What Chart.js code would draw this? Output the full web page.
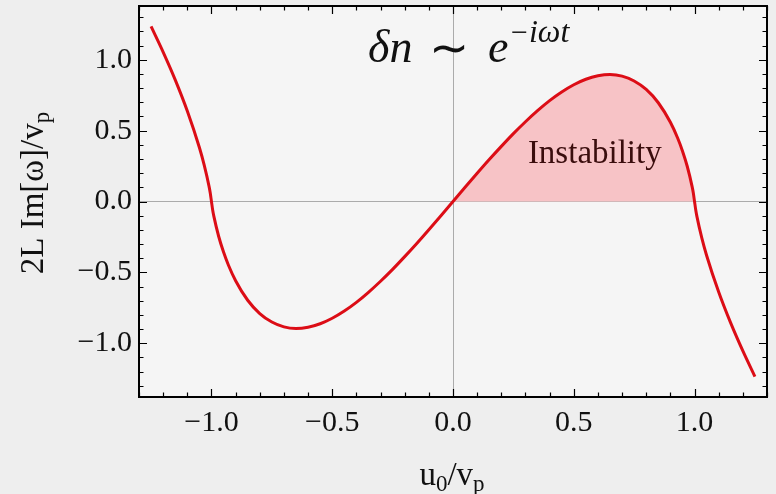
<!DOCTYPE html>
<html><head><meta charset="utf-8">
<script src="https://cdn.jsdelivr.net/npm/chart.js@4.4.1/dist/chart.umd.min.js"></script>
<style>html,body{margin:0;padding:0;background:#efefef;overflow:hidden}</style>
</head><body><canvas id="c" width="776" height="494"></canvas>
<script>
// ---- data ----
const u0 = [-1.25,-1.2,-1.15,-1.1,-1.05,-1.03,-1.01,-1.005,-1.0,-0.995,-0.99,-0.97,-0.95,-0.93,-0.9,-0.85,-0.8,-0.75,-0.7,-0.65,-0.6,-0.55,-0.5,-0.45,-0.4,-0.35,-0.3,-0.25,-0.2,-0.15,-0.1,-0.05,0,
  0.05,0.1,0.15,0.2,0.25,0.3,0.35,0.4,0.45,0.5,0.55,0.6,0.65,0.7,0.75,0.8,0.85,0.9,0.93,0.95,0.97,0.99,0.995,1.0,1.005,1.01,1.03,1.05,1.1,1.15,1.2,1.25];
const imOmega = [1.236,1.055,0.859,0.639,0.381,0.257,0.107,0.060,0,-0.060,-0.105,-0.247,-0.357,-0.448,-0.559,-0.697,-0.791,-0.851,-0.885,-0.896,-0.887,-0.863,-0.824,-0.773,-0.712,-0.641,-0.563,-0.479,-0.389,-0.296,-0.199,-0.100,0,
  0.100,0.199,0.296,0.389,0.479,0.563,0.641,0.712,0.773,0.824,0.863,0.887,0.896,0.885,0.851,0.791,0.697,0.559,0.448,0.357,0.247,0.105,0.060,0,-0.060,-0.107,-0.257,-0.381,-0.639,-0.859,-1.055,-1.236];
const xTickValues = [-1,-0.5,0,0.5,1];
const xTickLabels = ['\u22121.0','\u22120.5','0.0','0.5','1.0'];
const yTickValues = [-1,-0.5,0,0.5,1];
const yTickLabels = ['\u22121.0','\u22120.5','0.0','0.5','1.0'];
const regionLabel = 'Instability';

const SERIF = '"Liberation Serif", "Times New Roman", serif';
const linePts = u0.map((x,i)=>({x:x,y:imOmega[i]}));
const fillPts = linePts.filter(p=>p.x>=0 && p.x<=1);

const bgPlugin = {
  id:'bg',
  beforeDraw(chart){
    const c=chart.ctx, a=chart.chartArea;
    c.save();
    c.fillStyle='#eeeeee'; c.fillRect(0,0,chart.width,chart.height);
    c.fillStyle='#f5f5f5'; c.fillRect(a.left,a.top,a.right-a.left,a.bottom-a.top);
    c.restore();
  }
};

const framePlugin = {
  id:'frame',
  afterDatasetsDraw(chart){
    const c=chart.ctx, a=chart.chartArea, xs=chart.scales.x, ys=chart.scales.y;
    c.save();
    c.strokeStyle='#000'; c.lineWidth=1.2;
    c.beginPath();
    for(let k=-13;k<=13;k++){
      const v=k/10, px=Math.round(xs.getPixelForValue(v))+0.5, len=(k%5===0)?8:4.5;
      c.moveTo(px,a.bottom); c.lineTo(px,a.bottom-len);
      c.moveTo(px,a.top); c.lineTo(px,a.top+len);
    }
    for(let k=-13;k<=13;k++){
      const v=k/10, py=Math.round(ys.getPixelForValue(v))+0.5, len=(k%5===0)?8:4.5;
      c.moveTo(a.left,py); c.lineTo(a.left+len,py);
      c.moveTo(a.right,py); c.lineTo(a.right-len,py);
    }
    c.stroke();
    c.lineWidth=2;
    c.strokeRect(a.left,a.top,a.right-a.left,a.bottom-a.top);
    // region label
    c.fillStyle='#3a0d0d';
    c.font='33px '+SERIF;
    c.textAlign='left'; c.textBaseline='alphabetic';
    c.fillText(regionLabel, xs.getPixelForValue(0.31), ys.getPixelForValue(0.273));
    c.restore();
  },
  afterDraw(chart){
    const c=chart.ctx;
    c.save();
    c.fillStyle='#111';
    c.textBaseline='alphabetic'; c.textAlign='left';
    // title  δn ~ e^{-iωt}
    c.font='italic 46px '+SERIF;
    c.fillText('\u03B4n',368,62);
    c.font='48px '+SERIF;
    c.textAlign='center';
    c.fillText('\u223C',449,64);
    c.textAlign='left';
    c.font='italic 46px '+SERIF;
    c.fillText('e',488,62);
    c.font='30px '+SERIF;
    c.fillText('\u2212',511,42);
    let w=c.measureText('\u2212').width;
    c.font='italic 32px '+SERIF;
    c.fillText('i\u03C9t',511+w+1,42);
    // x title u0/vp
    const big='33px '+SERIF, sub='23px '+SERIF;
    const parts=[['u',big,0],['0',sub,6],['/v',big,0],['p',sub,6]];
    let tot=0;
    parts.forEach(p=>{c.font=p[1]; tot+=c.measureText(p[0]).width;});
    let x=452-tot/2;
    parts.forEach(p=>{c.font=p[1]; c.fillText(p[0],x,485+p[2]); x+=c.measureText(p[0]).width;});
    // y title
    const yparts=[['2L Im[\u03C9]/v',big,0],['p',sub,6]];
    tot=0;
    yparts.forEach(p=>{c.font=p[1]; tot+=c.measureText(p[0]).width;});
    c.translate(43,193); c.rotate(-Math.PI/2);
    x=-tot/2;
    yparts.forEach(p=>{c.font=p[1]; c.fillText(p[0],x,p[2]); x+=c.measureText(p[0]).width;});
    c.restore();
  }
};

new Chart(document.getElementById('c'),{
  type:'line',
  data:{datasets:[
    {label:'curve',data:linePts,borderColor:'#dc0d16',borderWidth:3,pointRadius:0,fill:false,cubicInterpolationMode:'monotone',order:0},
    {label:'instability',data:fillPts,borderWidth:0,borderColor:'rgba(0,0,0,0)',backgroundColor:'#f7c3c6',pointRadius:0,fill:'origin',cubicInterpolationMode:'monotone',order:1}
  ]},
  options:{
    responsive:false, animation:false, devicePixelRatio:1,
    layout:{padding:{top:6,right:9,left:0,bottom:0}},
    plugins:{legend:{display:false},tooltip:{enabled:false},title:{display:false}},
    scales:{
      x:{type:'linear',min:-1.3,max:1.3,
        afterBuildTicks:s=>{s.ticks=xTickValues.map(v=>({value:v}));},
        afterFit:s=>{s.height=97; s.paddingLeft=0; s.paddingRight=0;},
        ticks:{callback:(v,i)=>xTickLabels[i],font:{family:SERIF,size:30},color:'#111',padding:8,maxRotation:0,autoSkip:false},
        grid:{color:c=>(c.tick&&c.tick.value===0)?'#ababab':'rgba(0,0,0,0)',lineWidth:1,drawTicks:false},
        border:{display:false}},
      y:{type:'linear',min:-1.38,max:1.38,
        afterBuildTicks:s=>{s.ticks=yTickValues.map(v=>({value:v}));},
        afterFit:s=>{s.width=139; s.paddingTop=0; s.paddingBottom=0;},
        ticks:{callback:(v,i)=>yTickLabels[i],font:{family:SERIF,size:30},color:'#111',padding:7,autoSkip:false},
        grid:{color:c=>(c.tick&&c.tick.value===0)?'#ababab':'rgba(0,0,0,0)',lineWidth:1,drawTicks:false},
        border:{display:false}}
    }
  },
  plugins:[bgPlugin,framePlugin]
});
</script></body></html>
